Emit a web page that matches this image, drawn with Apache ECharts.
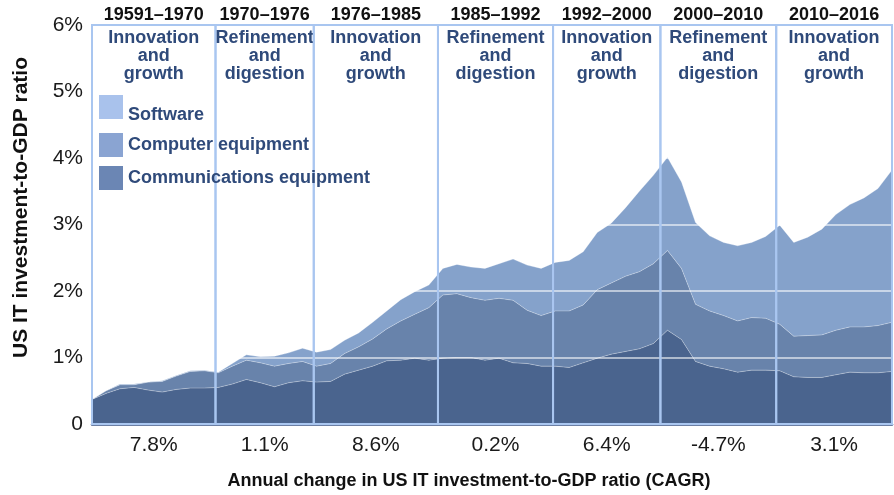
<!DOCTYPE html>
<html>
<head>
<meta charset="utf-8">
<script src="https://cdn.jsdelivr.net/npm/echarts@6/dist/echarts.min.js"></script>
<style>
  html, body { margin: 0; padding: 0; background: #fff; }
  #chart { width: 894px; height: 495px; }
</style>
</head>
<body>
<div id="chart"></div>
<script>
// years 1959..2016, values are % of GDP
const years = [];
for (let y = 1959; y <= 2016; y++) years.push(String(y));

const communications = [
    0.37, 0.46, 0.53, 0.55, 0.51, 0.48, 0.52, 0.54, 0.54, 0.55,
    0.60, 0.67, 0.62, 0.56, 0.62, 0.65, 0.63, 0.64, 0.75, 0.81,
    0.87, 0.95, 0.96, 0.99, 0.96, 0.99, 1.00, 1.00, 0.96, 0.99,
    0.92, 0.91, 0.87, 0.87, 0.85, 0.92, 0.99, 1.05, 1.09, 1.13,
    1.21, 1.41, 1.27, 0.94, 0.87, 0.83, 0.78, 0.81, 0.81, 0.80,
    0.71, 0.70, 0.70, 0.74, 0.78, 0.77, 0.77, 0.79
];
const computers = [
    0.00, 0.04, 0.06, 0.04, 0.12, 0.16, 0.20, 0.25, 0.26, 0.22,
    0.27, 0.29, 0.30, 0.31, 0.29, 0.29, 0.24, 0.27, 0.31, 0.35,
    0.41, 0.48, 0.59, 0.66, 0.79, 0.95, 0.96, 0.90, 0.90, 0.90,
    0.94, 0.80, 0.76, 0.83, 0.85, 0.87, 1.03, 1.07, 1.13, 1.16,
    1.20, 1.20, 1.07, 0.86, 0.83, 0.80, 0.77, 0.79, 0.78, 0.70,
    0.61, 0.63, 0.64, 0.67, 0.68, 0.69, 0.71, 0.74
];
const software = [
    0.00, 0.00, 0.01, 0.01, 0.00, 0.01, 0.01, 0.01, 0.01, 0.01,
    0.04, 0.08, 0.09, 0.15, 0.16, 0.20, 0.21, 0.21, 0.20, 0.21,
    0.25, 0.27, 0.32, 0.34, 0.34, 0.40, 0.44, 0.46, 0.48, 0.52,
    0.62, 0.68, 0.71, 0.73, 0.76, 0.80, 0.86, 0.90, 1.03, 1.21,
    1.33, 1.40, 1.30, 1.23, 1.13, 1.10, 1.13, 1.13, 1.23, 1.49,
    1.41, 1.48, 1.59, 1.74, 1.84, 1.94, 2.06, 2.29
];

// period boxes (edges as drawn in the original, in years)
const periodBreaks = [1959, 1967.8, 1974.8, 1983.65, 1991.85, 1999.5, 2007.75, 2016];
const periodLabels = ['19591–1970', '1970–1976', '1976–1985', '1985–1992', '1992–2000', '2000–2010', '2010–2016'];
const periodPhases = [
    'Innovation\nand\ngrowth', 'Refinement\nand\ndigestion', 'Innovation\nand\ngrowth',
    'Refinement\nand\ndigestion', 'Innovation\nand\ngrowth', 'Refinement\nand\ndigestion',
    'Innovation\nand\ngrowth'
];
const periodCagr = ['7.8%', '1.1%', '8.6%', '0.2%', '6.4%', '-4.7%', '3.1%'];

const yTicks = [0, 1, 2, 3, 4, 5, 6];

const FONT = 'Liberation Sans, Arial, sans-serif';
const BLUE_TEXT = '#2f4a7a';
const BOX_LINE = '#a9c6f0';

const chartDom = document.getElementById('chart');
const myChart = echarts.init(chartDom);

const areaSeries = (name, values, color) => ({
    name: name,
    type: 'line',
    stack: 'it',
    xAxisIndex: 0,
    data: values,
    showSymbol: false,
    symbol: 'none',
    z: 2,
    lineStyle: { color: 'rgba(255,255,255,0.3)', width: 1 },
    areaStyle: { color: color, opacity: 1 }
});

const option = {
    animation: false,
    grid: { left: 92, right: 2, top: 25, bottom: 63, containLabel: false },
    legend: {
        orient: 'vertical',
        left: 99,
        top: 95,
        padding: 0,
        itemWidth: 24,
        itemHeight: 24,
        itemGap: 9,
        icon: 'rect',
        z: 6,
        selectedMode: false,
        // the "Software" label sits a little lower than its swatch in the original
        formatter: name => (name === 'Software' ? '{low|' + name + '}' : name),
        textStyle: {
            color: BLUE_TEXT, fontSize: 18, fontWeight: 'bold', fontFamily: FONT,
            rich: {
                low: {
                    color: BLUE_TEXT, fontSize: 18, fontWeight: 'bold', fontFamily: FONT,
                    padding: [16, 0, 0, 0]
                }
            }
        },
        data: [
            { name: 'Software', itemStyle: { color: '#a9c2ec' } },
            { name: 'Computer equipment', itemStyle: { color: '#8aa4d2' } },
            { name: 'Communications equipment', itemStyle: { color: '#6b86b4' } }
        ]
    },
    xAxis: [
        {
            type: 'category',
            data: years,
            boundaryGap: false,
            offset: 2,
            axisLine: { show: true, lineStyle: { color: '#3d5586', width: 2.5 } },
            axisTick: { show: false },
            axisLabel: { show: false },
            splitLine: { show: false },
            name: 'Annual change in US IT investment-to-GDP ratio (CAGR)',
            nameLocation: 'middle',
            nameGap: 46,
            nameTextStyle: {
                color: '#111', fontSize: 18, fontWeight: 'bold', fontFamily: FONT,
                padding: [0, 46, 0, 0]
            }
        },
        {
            // numeric year scale for the period boxes, same span as the category axis
            type: 'value',
            min: 1959,
            max: 2016,
            show: false
        }
    ],
    yAxis: {
        type: 'value',
        min: 0,
        max: 6,
        interval: 1,
        z: 3,
        axisLine: { show: false },
        axisTick: { show: false },
        axisLabel: {
            margin: 9,
            color: '#1a1a1a',
            fontSize: 21,
            fontFamily: FONT,
            formatter: v => (v === 0 ? '0' : v + '%')
        },
        splitLine: { show: true, lineStyle: { color: 'rgba(255,255,255,0.75)', width: 1.5 } },
        name: 'US IT investment-to-GDP ratio',
        nameLocation: 'middle',
        nameGap: 60,
        nameTextStyle: {
            color: '#111', fontSize: 21, fontWeight: 'bold', fontFamily: FONT,
            padding: [0, 0, 0, 34]
        }
    },
    series: [
        areaSeries('Communications equipment', communications, '#4a648e'),
        areaSeries('Computer equipment', computers, '#6883ab'),
        areaSeries('Software', software, '#85a2cb'),
        {
            name: 'periods',
            type: 'custom',
            xAxisIndex: 1,
            z: 4,
            silent: true,
            data: periodLabels.map((_, i) => [periodBreaks[i], periodBreaks[i + 1]]),
            encode: { x: [0, 1] },
            renderItem: (params, api) => {
                const i = params.dataIndex;
                const p0 = api.coord([api.value(0), yTicks[yTicks.length - 1]]);
                const p1 = api.coord([api.value(1), yTicks[0]]);
                const mid = (p0[0] + p1[0]) / 2;
                return {
                    type: 'group',
                    children: [
                        {
                            type: 'rect',
                            shape: { x: p0[0], y: p0[1], width: p1[0] - p0[0], height: p1[1] - p0[1] },
                            style: { fill: 'none', stroke: BOX_LINE, lineWidth: 2 }
                        },
                        {
                            type: 'text',
                            x: mid, y: p0[1] - 10,
                            style: {
                                text: periodLabels[i], align: 'center', verticalAlign: 'middle',
                                font: 'bold 18px ' + FONT, fill: '#111'
                            }
                        },
                        {
                            type: 'text',
                            x: mid, y: p0[1] + 4,
                            style: {
                                text: periodPhases[i], align: 'center', verticalAlign: 'top',
                                lineHeight: 18, font: 'bold 18px ' + FONT, fill: BLUE_TEXT
                            }
                        },
                        {
                            type: 'text',
                            x: mid, y: p1[1] + 21,
                            style: {
                                text: periodCagr[i], align: 'center', verticalAlign: 'middle',
                                font: '21px ' + FONT, fill: '#1a1a1a'
                            }
                        }
                    ]
                };
            }
        }
    ]
};

option && myChart.setOption(option);
</script>
</body>
</html>
